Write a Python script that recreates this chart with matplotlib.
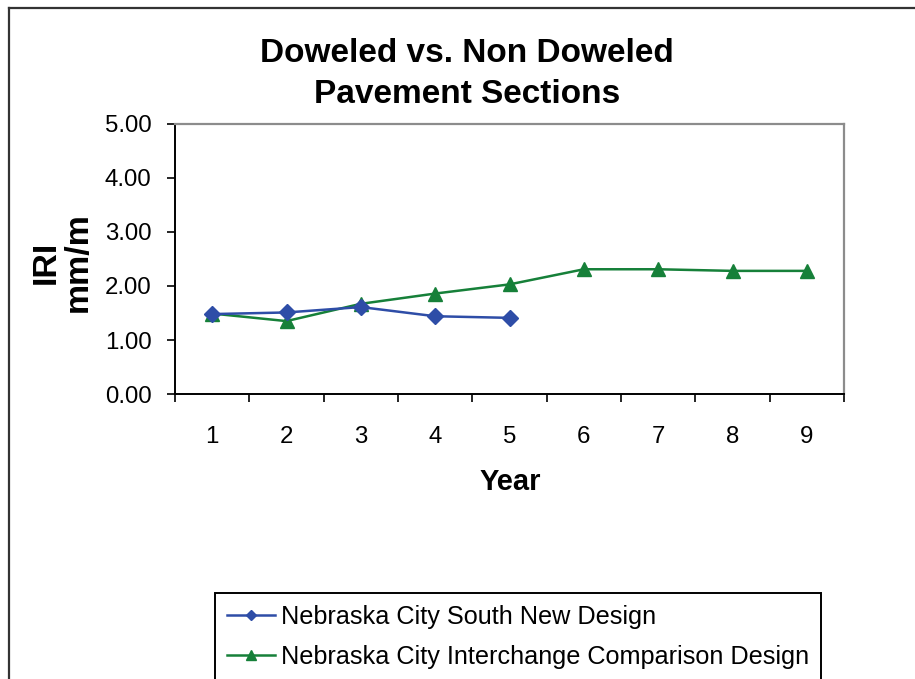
import matplotlib
matplotlib.use("Agg")
import matplotlib.pyplot as plt
from matplotlib.lines import Line2D

plt.rcParams['font.family'] = ['Liberation Sans', 'DejaVu Sans']

years = [1, 2, 3, 4, 5, 6, 7, 8, 9]
south_years = [1, 2, 3, 4, 5]
south_iri = [1.48, 1.51, 1.61, 1.44, 1.41]
interchange_iri = [1.49, 1.35, 1.67, 1.86, 2.03, 2.31, 2.31, 2.28, 2.28]
south_label = "Nebraska City South New Design"
interchange_label = "Nebraska City Interchange Comparison Design"
yticks = [0, 1, 2, 3, 4, 5]

blue = '#2E4DA7'
green = '#168039'

fig = plt.figure(figsize=(9.15, 6.79), dpi=100)
ax = fig.add_axes([175 / 915, 1 - 394 / 679, (844 - 175) / 915, (394 - 124) / 679])

ax.plot(south_years, south_iri, color=blue, lw=1.8, marker='D', ms=8.5,
        label=south_label, zorder=3)
ax.plot(years, interchange_iri, color=green, lw=1.8, marker='^', ms=10,
        label=interchange_label, zorder=2)

ax.set_xlim(0.5, 9.5)
ax.set_ylim(0, 5)
ax.set_yticks(yticks)
ax.set_yticklabels([f"{v:.2f}" for v in yticks])
ax.set_xticks(years)
ax.set_xticks([y + 0.5 for y in [0] + years], minor=True)
ax.tick_params(axis='x', which='major', length=0, pad=23, labelsize=17.3)
ax.tick_params(axis='x', which='minor', length=6, width=1.2, color='black')
ax.tick_params(axis='y', length=6, width=1.2, pad=11, labelsize=17.3)

for side in ['left', 'bottom']:
    ax.spines[side].set_color('black')
    ax.spines[side].set_linewidth(1.4)
for side in ['top', 'right']:
    ax.spines[side].set_color('#8c8c8c')
    ax.spines[side].set_linewidth(1.6)

fig.text(467 / 915, 1 - 74 / 679, "Doweled vs. Non Doweled\nPavement Sections",
         ha='center', va='center', fontsize=24, fontweight='bold', linespacing=1.4)
fig.text(62 / 915, 1 - 262 / 679, "IRI\nmm/m", rotation=90, ha='center', va='center',
         fontsize=24.5, fontweight='bold', linespacing=1.05)
fig.text(510 / 915, 1 - 482 / 679, "Year", ha='center', va='center',
         fontsize=21, fontweight='bold')

# outer chart frame, cut off at right and bottom
fig.add_artist(Line2D([8.5 / 915, 8.5 / 915], [0, 1 - 7.5 / 679],
                      transform=fig.transFigure, color='#333333', lw=1.6))
fig.add_artist(Line2D([8.5 / 915, 1], [1 - 7.5 / 679, 1 - 7.5 / 679],
                      transform=fig.transFigure, color='#333333', lw=1.6))

leg = fig.legend(loc='upper left', bbox_to_anchor=(215 / 915, 1 - 593 / 679),
                 fontsize=18.2, frameon=True, fancybox=False, framealpha=1,
                 edgecolor='black', handlelength=1.9, handletextpad=0.25,
                 labelspacing=0.62, borderpad=0.47, borderaxespad=0, markerscale=0.65)
leg.get_frame().set_linewidth(1.4)

fig.savefig("out.png", dpi=100)
plt.close(fig)
